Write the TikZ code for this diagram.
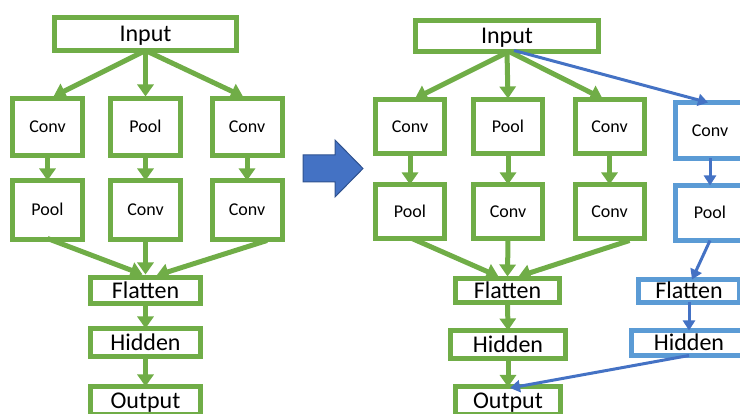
\documentclass[tikz,border=0pt]{standalone}
\usepackage{fontspec}
\setmainfont{Carlito}
\usetikzlibrary{arrows.meta,calc}
\definecolor{grn}{HTML}{70AD47}
\definecolor{bluebox}{HTML}{5B9BD5}
\definecolor{bluearr}{HTML}{4472C4}
\definecolor{blueedge}{HTML}{2F528F}
\tikzset{
  box/.style={draw=grn, line width=5pt, fill=white, inner sep=0pt, outer sep=0pt,
    rectangle, align=center, font=\fontsize{24}{24}\selectfont,
    text height=15.5pt, text depth=0pt},
  smallbox/.style={box, font=\fontsize{18}{18}\selectfont,
    text height=11.6pt, text depth=0pt},
  bbox/.style={draw=bluebox},
  garrow/.style={draw=grn, line width=5pt,
    -{Triangle[width=16pt,length=12pt]}},
  barrow/.style={draw=bluearr, line width=3pt,
    -{Triangle[width=12pt,length=10pt]}},
}
\begin{document}
\begin{tikzpicture}[x=1pt,y=-1pt]
\useasboundingbox (0,0) rectangle (740,414);
\begin{scope}
\clip (0,0) rectangle (740,414);

% ---------- left network ----------
\node[box, minimum width=182pt, minimum height=33pt] (inL) at (145.5,34) {Input};
\node[smallbox, minimum width=70pt, minimum height=57pt] (a1) at (47.5,127) {Conv};
\node[smallbox, minimum width=70pt, minimum height=57pt] (a2) at (145.5,127) {Pool};
\node[smallbox, minimum width=70pt, minimum height=57pt] (a3) at (247,127) {Conv};
\node[smallbox, minimum width=70pt, minimum height=59pt] (b1) at (47.5,210) {Pool};
\node[smallbox, minimum width=70pt, minimum height=59pt] (b2) at (145.5,210) {Conv};
\node[smallbox, minimum width=70pt, minimum height=59pt] (b3) at (247,210) {Conv};
\node[box, minimum width=110pt, minimum height=26pt] (flL) at (145.5,290.5) {Flatten};
\node[box, minimum width=110pt, minimum height=28pt] (hiL) at (145.5,342.5) {Hidden};
\node[box, minimum width=110pt, minimum height=28pt] (ouL) at (145.5,400.5) {Output};

\draw[garrow] ($(inL.south)+(0,0)$) -- ($(a1.north)+(6,-2)$);
\draw[garrow] (inL.south) -- ($(a2.north)+(0,-2)$);
\draw[garrow] (inL.south) -- ($(a3.north)+(-4,-2)$);
\draw[garrow] (a1.south) -- (b1.north);
\draw[garrow] (a2.south) -- (b2.north);
\draw[garrow] (a3.south) -- (b3.north);
\draw[garrow] ($(b1.south)+(0,-1)$) -- ($(flL.north)+(-3,-3)$);
\draw[garrow] (b2.south) -- ($(flL.north)+(0,-3)$);
\draw[garrow] ($(b3.south)+(20,1)$) -- ($(flL.north)+(11,-2)$);
\draw[garrow] (flL.south) -- (hiL.north);
\draw[garrow] (hiL.south) -- (ouL.north);

% ---------- block arrow between the two networks ----------
\draw[draw=blueedge, fill=bluearr, line width=1pt, line join=miter]
  (303,155) -- (335,155) -- (335,140) -- (363,168.5) -- (335,197)
  -- (335,182) -- (303,182) -- cycle;

% ---------- right network ----------
\node[box, minimum width=183pt, minimum height=31pt] (inR) at (507,36) {Input};
\node[smallbox, minimum width=69pt, minimum height=54pt] (c1) at (410,126.5) {Conv};
\node[smallbox, minimum width=69pt, minimum height=54pt] (c2) at (508,126.5) {Pool};
\node[smallbox, minimum width=69pt, minimum height=54pt] (c3) at (609.5,126.5) {Conv};
\node[smallbox, bbox, minimum width=69pt, minimum height=56pt] (c4) at (710,130.5) {Conv};
\node[smallbox, minimum width=69pt, minimum height=54pt] (d1) at (410,211.5) {Pool};
\node[smallbox, minimum width=69pt, minimum height=54pt] (d2) at (508,211.5) {Conv};
\node[smallbox, minimum width=69pt, minimum height=54pt] (d3) at (609.5,211.5) {Conv};
\node[smallbox, bbox, minimum width=69pt, minimum height=55pt] (d4) at (710,213) {Pool};
\node[box, minimum width=104pt, minimum height=24pt] (flR) at (507.5,290.5) {Flatten};
\node[box, minimum width=115pt, minimum height=28pt] (hiR) at (508,344.5) {Hidden};
\node[box, minimum width=105pt, minimum height=28pt] (ouR) at (508,401) {Output};
\node[box, bbox, minimum width=101pt, minimum height=23pt] (flB) at (689,291) {Flatten};
\node[box, bbox, minimum width=115pt, minimum height=25pt] (hiB) at (689,343) {Hidden};

\draw[garrow] ($(inR.south)+(2,0)$) -- ($(c1.north)+(5,-1)$);
\draw[garrow] (inR.south) -- ($(c2.north)+(0,-1)$);
\draw[garrow] ($(inR.south)+(2,0)$) -- ($(c3.north)+(-7,-1)$);
\draw[barrow] ($(inR.south)+(7,-1)$) -- ($(c4.north)+(-2,0)$);
\draw[garrow] (c1.south) -- (d1.north);
\draw[garrow] (c2.south) -- (d2.north);
\draw[garrow] (c3.south) -- (d3.north);
\draw[barrow] (c4.south) -- (d4.north);
\draw[garrow] ($(d1.south)+(2,0)$) -- ($(flR.north)+(-9,-2)$);
\draw[garrow] (d2.south) -- ($(flR.north)+(0,-2)$);
\draw[garrow] ($(d3.south)+(20,2)$) -- ($(flR.north)+(11,-2)$);
\draw[garrow] (flR.south) -- (hiR.north);
\draw[garrow] (hiR.south) -- (ouR.north);
\draw[barrow] (d4.south) -- ($(flB.north)+(3,0)$);
\draw[barrow] (flB.south) -- (hiB.north);
\draw[barrow] (hiB.south) -- ($(ouR.north)+(2,1)$);
\end{scope}
\end{tikzpicture}
\end{document}
